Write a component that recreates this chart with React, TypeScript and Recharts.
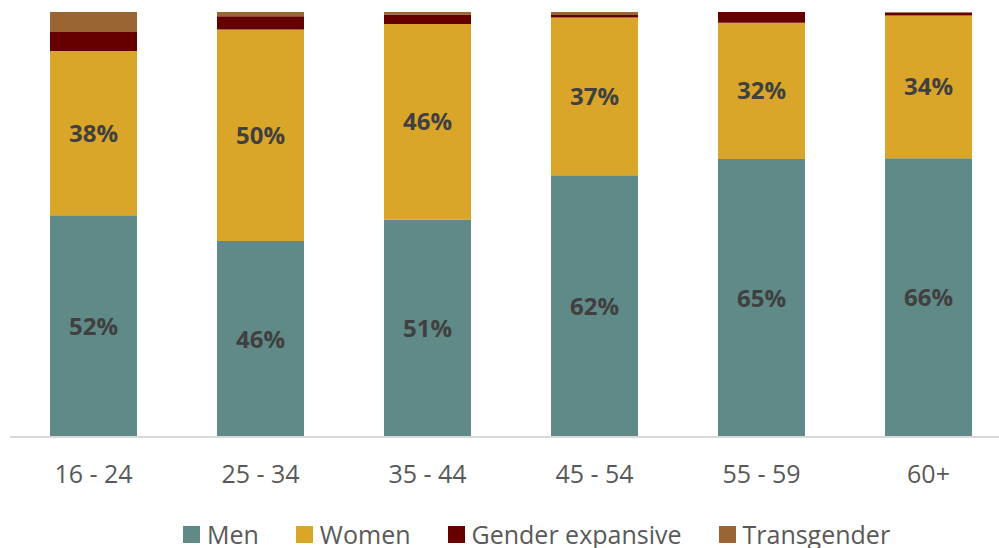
import React from "react";
import { BarChart, Bar, XAxis, YAxis, Legend, LabelList } from "recharts";

const categories = ["16 - 24", "25 - 34", "35 - 44", "45 - 54", "55 - 59", "60+"];
const men = [52.2, 46.1, 51.1, 61.6, 65.4, 65.6];
const women = [38.6, 49.8, 46.1, 37.1, 32.1, 33.6];
const genderExpansive = [4.5, 3.1, 2.2, 0.6, 2.5, 0.6];
const transgender = [4.7, 1.0, 0.6, 0.7, 0.0, 0.2];
const menLabels = ["52%", "46%", "51%", "62%", "65%", "66%"];
const womenLabels = ["38%", "50%", "46%", "37%", "32%", "34%"];

const seriesNames = ["Men", "Women", "Gender expansive", "Transgender"];
const colors = ["#5F8A87", "#DAA629", "#660000", "#9A6533"];

const data = categories.map((c, i) => ({
  category: c,
  men: men[i],
  women: women[i],
  ge: genderExpansive[i],
  trans: transgender[i],
  menLabel: menLabels[i],
  womenLabel: womenLabels[i],
}));

const FONT = "'Open Sans', 'DejaVu Sans', sans-serif";

const LegendContent = () => (
  <div style={{ display: "flex", alignItems: "center", height: 26, lineHeight: "26px", fontFamily: FONT, fontSize: 25, color: "#595959", whiteSpace: "nowrap" }}>
    {seriesNames.map((n, i) => (
      <div key={n} style={{ display: "flex", alignItems: "center", marginRight: i < seriesNames.length - 1 ? 37 : 0 }}>
        <span style={{ display: "inline-block", width: 17, height: 17, background: colors[i], marginRight: 7 }} />
        <span>{n}</span>
      </div>
    ))}
  </div>
);

const labelStyle = { fill: "#404040", fontFamily: FONT, fontSize: 24, fontWeight: 700 };

export default function App() {
  return (
    <div style={{ width: 999, height: 548, overflow: "hidden" }}>
      <style>{`html,body{margin:0;padding:0;overflow:hidden;}`}</style>
      <BarChart
        width={999}
        height={548}
        data={data}
        margin={{ top: 12, right: 0, left: 10, bottom: 15 }}
        barSize={87}
      >
        <XAxis
          dataKey="category"
          axisLine={{ stroke: "#D9D9D9", strokeWidth: 2 }}
          tickLine={false}
          tickSize={0}
          tickMargin={28}
          height={70}
          padding={{ left: 0, right: -13 }}
          tick={{ fill: "#595959", fontFamily: FONT, fontSize: 25 }}
          interval={0}
        />
        <YAxis hide domain={[0, 100]} allowDataOverflow />
        <Legend
          verticalAlign="bottom"
          content={<LegendContent />}
          wrapperStyle={{ left: 183, top: 521, width: "auto" }}
        />
        <Bar dataKey="men" stackId="a" fill={colors[0]} isAnimationActive={false}>
          <LabelList dataKey="menLabel" position="center" style={labelStyle} />
        </Bar>
        <Bar dataKey="women" stackId="a" fill={colors[1]} isAnimationActive={false}>
          <LabelList dataKey="womenLabel" position="center" style={labelStyle} />
        </Bar>
        <Bar dataKey="ge" stackId="a" fill={colors[2]} isAnimationActive={false} />
        <Bar dataKey="trans" stackId="a" fill={colors[3]} isAnimationActive={false} />
      </BarChart>
    </div>
  );
}
